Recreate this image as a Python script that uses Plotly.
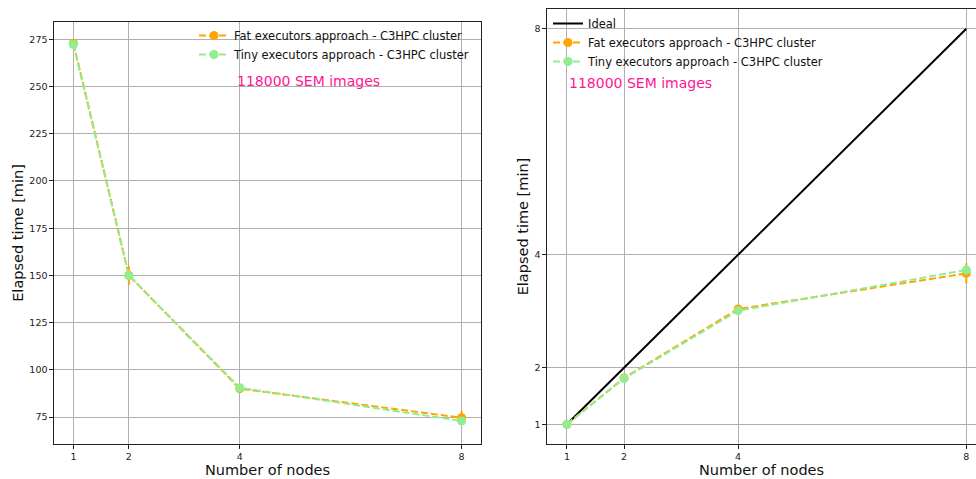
import plotly.graph_objects as go

nodes = [1, 2, 4, 8]

fat_time = [273.0, 150.0, 90.0, 74.6]
fat_time_err = [1.0, 5.0, 1.0, 3.7]
tiny_time = [272.3, 150.0, 90.5, 72.9]
tiny_time_err = [0.8, 1.5, 0.8, 1.2]

ideal_speedup = [1, 2, 4, 8]
fat_speedup = [1.0, 1.82, 3.04, 3.67]
fat_speedup_err = [0.0, 0.06, 0.03, 0.18]
tiny_speedup = [1.0, 1.81, 3.01, 3.73]
tiny_speedup_err = [0.0, 0.02, 0.03, 0.06]

left_yticks = [75, 100, 125, 150, 175, 200, 225, 250, 275]
right_yticks = [1, 2, 4, 8]

fat_name = "Fat executors approach - C3HPC cluster"
tiny_name = "Tiny executors approach - C3HPC cluster"
annot_text = "118000 SEM images"

ORANGE = "#FFA500"
GREEN = "#90EE90"
PINK = "#FF1493"
FONT = "DejaVu Sans"
W, H = 976, 479

def px(x):
    return x / W

def py(y):
    return 1 - y / H

fig = go.Figure()

def series(x, y, err, color, name, xa, ya, legend):
    return go.Scatter(
        x=x, y=y, name=name, mode="lines+markers",
        line=dict(color=color, width=2, dash="7px,3px"),
        marker=dict(color=color, size=9, symbol="circle"),
        error_y=dict(type="data", array=err, visible=True, color=color,
                     thickness=2, width=0),
        xaxis=xa, yaxis=ya, legend=legend,
    )

fig.add_trace(series(nodes, fat_time, fat_time_err, ORANGE, fat_name, "x", "y", "legend"))
fig.add_trace(series(nodes, tiny_time, tiny_time_err, GREEN, tiny_name, "x", "y", "legend"))

fig.add_trace(go.Scatter(x=nodes, y=ideal_speedup, name="Ideal", mode="lines",
                         line=dict(color="black", width=2),
                         xaxis="x2", yaxis="y2", legend="legend2"))
fig.add_trace(series(nodes, fat_speedup, fat_speedup_err, ORANGE, fat_name, "x2", "y2", "legend2"))
fig.add_trace(series(nodes, tiny_speedup, tiny_speedup_err, GREEN, tiny_name, "x2", "y2", "legend2"))

axis_common = dict(
    showgrid=True, gridcolor="#b0b0b0", gridwidth=1,
    showline=True, linecolor="#222222", linewidth=1.2,
    ticks="outside", ticklen=3.5, tickwidth=1, tickcolor="#222222",
    tickfont=dict(family=FONT, size=9.5, color="#222222"),
    zeroline=False,
)
title_font = dict(family=FONT, size=14.5, color="#111111")

fig.update_layout(
    width=W, height=H,
    margin=dict(l=0, r=0, t=0, b=0),
    paper_bgcolor="white", plot_bgcolor="white",
    font=dict(family=FONT),
    xaxis=dict(domain=[px(54), px(481)], anchor="y", range=[0.65, 8.35],
               tickvals=nodes, mirror=True,
               title=dict(text="Number of nodes", font=title_font, standoff=3),
               **axis_common),
    yaxis=dict(domain=[py(444), py(22)], anchor="x", range=[60.7, 284.2],
               tickvals=left_yticks, mirror=True,
               title=dict(text="Elapsed time [min]", font=title_font, standoff=2),
               **axis_common),
    xaxis2=dict(domain=[px(547), 1.0], anchor="y2", range=[0.65, 8.17],
                tickvals=nodes, mirror=True,
                title=dict(text="Number of nodes", font=title_font, standoff=3),
                **axis_common),
    yaxis2=dict(domain=[py(444), py(9)], anchor="x2", range=[0.65, 8.35],
                tickvals=right_yticks, mirror=False,
                title=dict(text="Elapsed time [min]", font=title_font, standoff=2),
                **axis_common),
    legend=dict(x=px(194), y=py(21), xanchor="left", yanchor="top",
                bgcolor="rgba(0,0,0,0)", font=dict(family=FONT, size=11.5, color="#111111"),
                tracegroupgap=0, itemwidth=30),
    legend2=dict(x=px(548), y=py(9), xanchor="left", yanchor="top",
                 bgcolor="rgba(0,0,0,0)", font=dict(family=FONT, size=11.5, color="#111111"),
                 tracegroupgap=0, itemwidth=30),
    showlegend=True,
    annotations=[
        dict(text=annot_text, x=px(235), y=py(81), xref="paper", yref="paper",
             xanchor="left", yanchor="middle", showarrow=False,
             font=dict(family=FONT, size=14, color=PINK)),
        dict(text=annot_text, x=px(567), y=py(83), xref="paper", yref="paper",
             xanchor="left", yanchor="middle", showarrow=False,
             font=dict(family=FONT, size=14, color=PINK)),
    ],
)

fig.write_html("out.html")
